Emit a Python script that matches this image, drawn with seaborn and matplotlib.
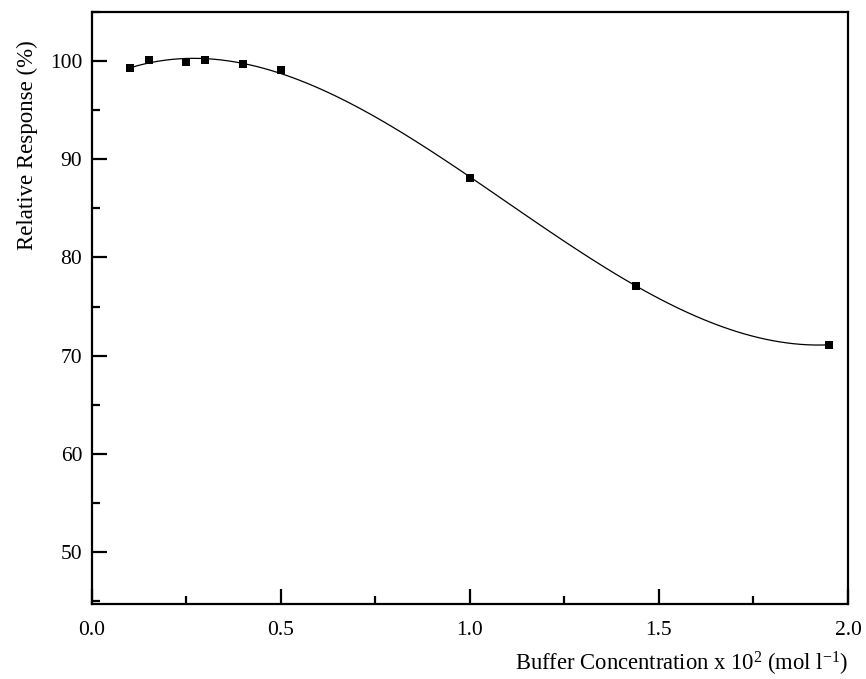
import matplotlib
matplotlib.use("Agg")
import matplotlib.pyplot as plt
import seaborn as sns
import pandas as pd
from matplotlib.ticker import MultipleLocator, FormatStrFormatter

# Data
concentration = [0.10, 0.15, 0.25, 0.30, 0.40, 0.50, 1.00, 1.44, 1.95]
response = [99.3, 100.1, 99.9, 100.1, 99.7, 99.1, 88.1, 77.1, 71.1]

df = pd.DataFrame({"conc": concentration, "resp": response})

sns.set_style("ticks")
plt.rcParams.update({
    "font.family": ["Liberation Serif", "DejaVu Serif"],
    "mathtext.fontset": "custom",
    "mathtext.rm": "Liberation Serif",
    "mathtext.it": "Liberation Serif:italic",
    "font.size": 15,
    "text.color": "black",
    "axes.labelcolor": "black",
    "axes.edgecolor": "black",
    "xtick.color": "black",
    "ytick.color": "black",
})

fig = plt.figure(figsize=(8.66, 6.79), dpi=100)
ax = fig.add_axes([0.1062, 0.1105, 0.8730, 0.8718])

# cubic fit curve + measured points
sns.regplot(data=df, x="conc", y="resp", order=3, ci=None, ax=ax,
            marker="s", color="black",
            scatter_kws={"s": 40, "linewidths": 0, "alpha": 1},
            line_kws={"linewidth": 0.9})

ax.set_xlim(0, 2.0)
ax.set_ylim(44.7, 105)
ax.xaxis.set_major_locator(MultipleLocator(0.5))
ax.xaxis.set_minor_locator(MultipleLocator(0.25))
ax.yaxis.set_major_locator(MultipleLocator(10))
ax.yaxis.set_minor_locator(MultipleLocator(5))
ax.yaxis.set_major_formatter(FormatStrFormatter("%d"))
ax.xaxis.set_major_formatter(FormatStrFormatter("%.1f"))

ax.tick_params(which="major", direction="in", length=11, width=1.6, labelsize=15.5)
ax.tick_params(axis="x", which="major", pad=12)
ax.tick_params(axis="y", which="major", pad=7)
ax.tick_params(which="minor", direction="in", length=6, width=1.6)
for s in ax.spines.values():
    s.set_linewidth(1.6)

ax.set_ylabel("Relative Response (%)", fontsize=16.5)
ax.yaxis.set_label_coords(-0.072, 0.775)
ax.set_xlabel(r"Buffer Concentration x 10$^2$ (mol l$^{-1}$)", fontsize=16.3, ha="right")
ax.xaxis.set_label_coords(1.0, -0.077)

fig.savefig("out.png", dpi=100)
